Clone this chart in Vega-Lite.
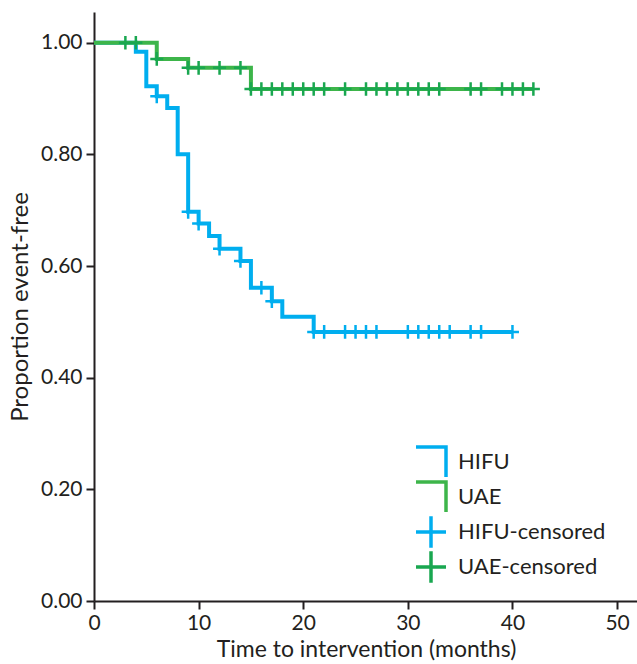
{
  "$schema": "https://vega.github.io/schema/vega-lite/v6.json",
  "autosize": "none",
  "width": 544,
  "height": 589,
  "padding": {"left": 94, "top": 12, "right": 0, "bottom": 63},
  "background": "white",
  "config": {
    "view": {"stroke": null},
    "font": "Lato",
    "axis": {
      "labelFont": "Lato", "titleFont": "Lato",
      "labelFontSize": 21, "titleFontSize": 23, "titleFontWeight": "normal",
      "labelColor": "#231F20", "titleColor": "#231F20",
      "domainColor": "#231F20", "tickColor": "#231F20",
      "domainWidth": 2, "tickWidth": 2, "tickSize": 8, "grid": false
    }
  },
  "datasets": {
    "curves": [
      {"series": "HIFU", "t": 0, "s": 1.0},
      {"series": "HIFU", "t": 4, "s": 0.984},
      {"series": "HIFU", "t": 5, "s": 0.922},
      {"series": "HIFU", "t": 6, "s": 0.904},
      {"series": "HIFU", "t": 7, "s": 0.883},
      {"series": "HIFU", "t": 8, "s": 0.8},
      {"series": "HIFU", "t": 9, "s": 0.697},
      {"series": "HIFU", "t": 10, "s": 0.676},
      {"series": "HIFU", "t": 11, "s": 0.654},
      {"series": "HIFU", "t": 12, "s": 0.631},
      {"series": "HIFU", "t": 14, "s": 0.609},
      {"series": "HIFU", "t": 15, "s": 0.561},
      {"series": "HIFU", "t": 17, "s": 0.537},
      {"series": "HIFU", "t": 18, "s": 0.509},
      {"series": "HIFU", "t": 21, "s": 0.482},
      {"series": "HIFU", "t": 40, "s": 0.482},
      {"series": "UAE", "t": 0, "s": 1.0},
      {"series": "UAE", "t": 6, "s": 0.971},
      {"series": "UAE", "t": 9, "s": 0.955},
      {"series": "UAE", "t": 15, "s": 0.917},
      {"series": "UAE", "t": 42, "s": 0.917}
    ],
    "censored": [
      {"series": "HIFU-censored", "t": 6, "s": 0.904},
      {"series": "HIFU-censored", "t": 9, "s": 0.697},
      {"series": "HIFU-censored", "t": 10, "s": 0.676},
      {"series": "HIFU-censored", "t": 12, "s": 0.631},
      {"series": "HIFU-censored", "t": 14, "s": 0.609},
      {"series": "HIFU-censored", "t": 16, "s": 0.561},
      {"series": "HIFU-censored", "t": 17, "s": 0.537},
      {"series": "HIFU-censored", "t": 21, "s": 0.482},
      {"series": "HIFU-censored", "t": 22, "s": 0.482},
      {"series": "HIFU-censored", "t": 24, "s": 0.482},
      {"series": "HIFU-censored", "t": 25, "s": 0.482},
      {"series": "HIFU-censored", "t": 26, "s": 0.482},
      {"series": "HIFU-censored", "t": 27, "s": 0.482},
      {"series": "HIFU-censored", "t": 30, "s": 0.482},
      {"series": "HIFU-censored", "t": 31, "s": 0.482},
      {"series": "HIFU-censored", "t": 32, "s": 0.482},
      {"series": "HIFU-censored", "t": 33, "s": 0.482},
      {"series": "HIFU-censored", "t": 34, "s": 0.482},
      {"series": "HIFU-censored", "t": 36, "s": 0.482},
      {"series": "HIFU-censored", "t": 37, "s": 0.482},
      {"series": "HIFU-censored", "t": 40, "s": 0.482},
      {"series": "UAE-censored", "t": 3, "s": 1.0},
      {"series": "UAE-censored", "t": 4, "s": 1.0},
      {"series": "UAE-censored", "t": 6, "s": 0.971},
      {"series": "UAE-censored", "t": 9, "s": 0.955},
      {"series": "UAE-censored", "t": 10, "s": 0.955},
      {"series": "UAE-censored", "t": 12, "s": 0.955},
      {"series": "UAE-censored", "t": 14, "s": 0.955},
      {"series": "UAE-censored", "t": 15, "s": 0.917},
      {"series": "UAE-censored", "t": 16, "s": 0.917},
      {"series": "UAE-censored", "t": 17, "s": 0.917},
      {"series": "UAE-censored", "t": 18, "s": 0.917},
      {"series": "UAE-censored", "t": 19, "s": 0.917},
      {"series": "UAE-censored", "t": 20, "s": 0.917},
      {"series": "UAE-censored", "t": 21, "s": 0.917},
      {"series": "UAE-censored", "t": 22, "s": 0.917},
      {"series": "UAE-censored", "t": 24, "s": 0.917},
      {"series": "UAE-censored", "t": 26, "s": 0.917},
      {"series": "UAE-censored", "t": 27, "s": 0.917},
      {"series": "UAE-censored", "t": 28, "s": 0.917},
      {"series": "UAE-censored", "t": 29, "s": 0.917},
      {"series": "UAE-censored", "t": 30, "s": 0.917},
      {"series": "UAE-censored", "t": 31, "s": 0.917},
      {"series": "UAE-censored", "t": 32, "s": 0.917},
      {"series": "UAE-censored", "t": 33, "s": 0.917},
      {"series": "UAE-censored", "t": 36, "s": 0.917},
      {"series": "UAE-censored", "t": 37, "s": 0.917},
      {"series": "UAE-censored", "t": 39, "s": 0.917},
      {"series": "UAE-censored", "t": 40, "s": 0.917},
      {"series": "UAE-censored", "t": 41, "s": 0.917},
      {"series": "UAE-censored", "t": 42, "s": 0.917}
    ]
  },
  "encoding": {
    "x": {
      "field": "t", "type": "quantitative",
      "scale": {"domain": [0, 52], "nice": false, "zero": false},
      "axis": {"values": [0, 10, 20, 30, 40, 50], "title": "Time to intervention (months)", "labelPadding": 3, "titlePadding": 5, "labelFlush": false}
    },
    "y": {
      "field": "s", "type": "quantitative",
      "scale": {"domain": [0, 1.055], "nice": false},
      "axis": {"values": [0, 0.2, 0.4, 0.6, 0.8, 1.0], "format": ".2f", "title": "Proportion event-free", "titleFontSize": 24, "labelPadding": 4, "titlePadding": 8}
    },
    "color": {
      "field": "series", "type": "nominal",
      "scale": {"domain": ["HIFU", "UAE", "HIFU-censored", "UAE-censored"], "range": ["#00AEEF", "#3DB54A", "#00AEEF", "#19A750"]},
      "legend": {
        "title": null, "orient": "none", "legendX": 320, "legendY": 433, "padding": 0,
        "labelFont": "Lato", "labelFontSize": 22, "labelColor": "#231F20", "labelOffset": 10,
        "clipHeight": 34, "rowPadding": 1, "symbolSize": 900, "symbolStrokeWidth": 3.5,
        "encode": {"symbols": {"update": {"fill": {"value": "transparent"}, "strokeWidth": {"value": 3.5}, "size": {"value": 900}}}}
      }
    }
  },
  "layer": [
    {
      "data": {"name": "curves"},
      "mark": {"type": "line", "interpolate": "step-after", "strokeWidth": 4, "strokeCap": "butt"},
      "encoding": {"detail": {"field": "series"}}
    },
    {
      "data": {"name": "censored"},
      "mark": {"type": "point", "filled": false, "strokeWidth": 2.5, "size": 169, "opacity": 1},
      "encoding": {
        "shape": {
          "field": "series", "type": "nominal",
          "scale": {"domain": ["HIFU", "UAE", "HIFU-censored", "UAE-censored"], "range": ["M-1,-1H1V1", "M-1,-1H1V1", "M-1,0H1M0,-1.05V1.05", "M-1,0H1M0,-1.05V1.05"]},
          "legend": {"title": null}
        }
      }
    }
  ]
}
